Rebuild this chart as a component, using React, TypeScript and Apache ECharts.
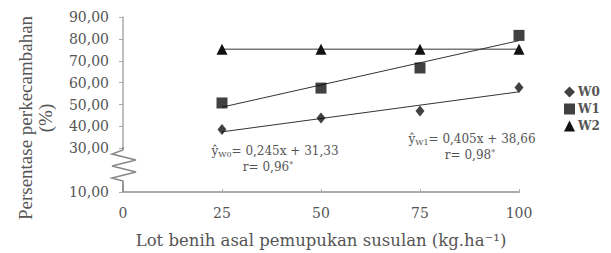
import React, { useEffect, useRef } from "react";
import * as echarts from "echarts";

const doses = [25, 50, 75, 100];
const w0 = [38.6, 43.8, 47.0, 57.8];
const w1 = [50.7, 57.5, 66.7, 81.6];
const w2 = [75.3, 75.3, 75.3, 75.3];
const w0TrendX = [25, 100];
const w0TrendY = [37.5, 55.8];
const w1TrendX = [25, 100];
const w1TrendY = [48.8, 79.2];
const xTicks = [0, 25, 50, 75, 100];
const yTicks = [10, 30, 40, 50, 60, 70, 80, 90];

const FONT = "'DejaVu Serif', serif";
const TFONT = "'Liberation Serif', serif";
const TXT = "#555";

export default function App() {
  const ref = useRef<HTMLDivElement>(null);
  useEffect(() => {
    if (!ref.current) return;
    const chart = echarts.init(ref.current, null, { renderer: "svg" });
    const pairs = (xs: number[], ys: number[]) => xs.map((x, i) => [x, ys[i]]);
    const rich = {
      a: { fontFamily: FONT, fontSize: 12, fill: TXT, color: TXT },
      s: { fontFamily: FONT, fontSize: 8, fill: TXT, color: TXT, verticalAlign: "bottom", padding: [6, 0, 0, 0] },
      p: { fontFamily: FONT, fontSize: 8, fill: TXT, color: TXT, verticalAlign: "top", padding: [0, 0, 6, 0] },
    };
    chart.setOption({
      animation: false,
      backgroundColor: "#ffffff",
      textStyle: { fontFamily: FONT },
      grid: { left: 123, right: 92, top: 17, bottom: 61 },
      legend: {
        data: [
          { name: "W0", icon: "diamond" },
          { name: "W1", icon: "rect" },
          { name: "W2", icon: "triangle" },
        ],
        orient: "vertical",
        left: 559,
        top: 80,
        itemWidth: 11,
        itemHeight: 11,
        itemGap: 3,
        textStyle: { fontFamily: FONT, fontSize: 12, lineHeight: 14, color: TXT, fontWeight: "bold", padding: [0, 0, 0, -2] },
      },
      xAxis: {
        type: "value",
        min: 0,
        max: 100,
        interval: 25,
        axisLine: { show: true, lineStyle: { color: "#aaa", width: 2 } },
        axisTick: { show: true, inside: true, length: 3, lineStyle: { color: "#aaa" } },
        splitLine: { show: false },
        axisLabel: {
          fontFamily: FONT,
          fontSize: 14,
          color: TXT,
          margin: 14,
          formatter: (v: number) => (xTicks.includes(v) ? String(v) : ""),
        },
      },
      yAxis: {
        type: "value",
        min: 10,
        max: 90,
        interval: 10,
        axisLine: { show: true, lineStyle: { color: "#aaa", width: 1.5 } },
        axisTick: { show: true, length: 4, lineStyle: { color: "#aaa" } },
        splitLine: { show: false },
        axisLabel: {
          fontFamily: FONT,
          fontSize: 14,
          color: TXT,
          margin: 14,
          formatter: (v: number) => (yTicks.includes(v) ? v.toFixed(2).replace(".", ",") : ""),
        },
      },
      series: [
        {
          name: "W0",
          type: "scatter",
          symbol: "diamond",
          symbolSize: [9, 11],
          itemStyle: { color: "#111" },
          data: pairs(doses, w0),
          z: 5,
        },
        {
          name: "W1",
          type: "scatter",
          symbol: "rect",
          symbolSize: 11,
          itemStyle: { color: "#111" },
          data: pairs(doses, w1),
          z: 5,
        },
        {
          name: "W2",
          type: "line",
          symbol: "triangle",
          symbolSize: 11,
          itemStyle: { color: "#111" },
          lineStyle: { color: "#333", width: 1 },
          data: pairs(doses, w2),
          z: 5,
        },
        {
          name: "W0 trend",
          type: "line",
          symbol: "none",
          lineStyle: { color: "#333", width: 1 },
          data: pairs(w0TrendX, w0TrendY),
          silent: true,
        },
        {
          name: "W1 trend",
          type: "line",
          symbol: "none",
          lineStyle: { color: "#333", width: 1 },
          data: pairs(w1TrendX, w1TrendY),
          silent: true,
        },
      ],
      graphic: [
        {
          type: "rect",
          shape: { x: 110, y: 149, width: 28, height: 34 },
          style: { fill: "#fff" },
          z: 100,
        },
        {
          type: "polyline",
          shape: {
            points: [
              [123, 147],
              [123, 150],
              [112, 154],
              [136, 160],
              [112, 166],
              [136, 172],
              [112, 178],
              [123, 181],
              [123, 192],
            ],
          },
          style: { stroke: "#888", lineWidth: 1.5, fill: "none" },
          z: 101,
        },
        {
          type: "text",
          x: 35,
          y: 118,
          rotation: Math.PI / 2,
          style: {
            text: "Persentase perkecambahan\n(%)",
            fontFamily: TFONT,
            fontSize: 19,
            lineHeight: 20,
            fill: TXT,
            align: "center",
            verticalAlign: "middle",
          },
          z: 50,
        },
        {
          type: "text",
          x: 321,
          y: 240,
          style: {
            text: "Lot benih asal pemupukan susulan (kg.ha⁻¹)",
            fontFamily: FONT,
            fontSize: 16.5,
            fill: TXT,
            align: "center",
            verticalAlign: "middle",
          },
          z: 50,
        },
        {
          type: "text",
          x: 275,
          y: 151,
          style: { text: "{a|ŷ}{s|W0}{a|= 0,245x + 31,33}", rich, align: "center", verticalAlign: "middle" },
          z: 50,
        },
        {
          type: "text",
          x: 268,
          y: 167,
          style: { text: "{a|r= 0,96}{p|*}", rich, align: "center", verticalAlign: "middle" },
          z: 50,
        },
        {
          type: "text",
          x: 472,
          y: 139,
          style: { text: "{a|ŷ}{s|W1}{a|= 0,405x + 38,66}", rich, align: "center", verticalAlign: "middle" },
          z: 50,
        },
        {
          type: "text",
          x: 470,
          y: 155,
          style: { text: "{a|r= 0,98}{p|*}", rich, align: "center", verticalAlign: "middle" },
          z: 50,
        },
      ],
    });
    return () => chart.dispose();
  }, []);
  return <div ref={ref} style={{ position: "absolute", left: 0, top: 0, width: 611, height: 253 }} />;
}
